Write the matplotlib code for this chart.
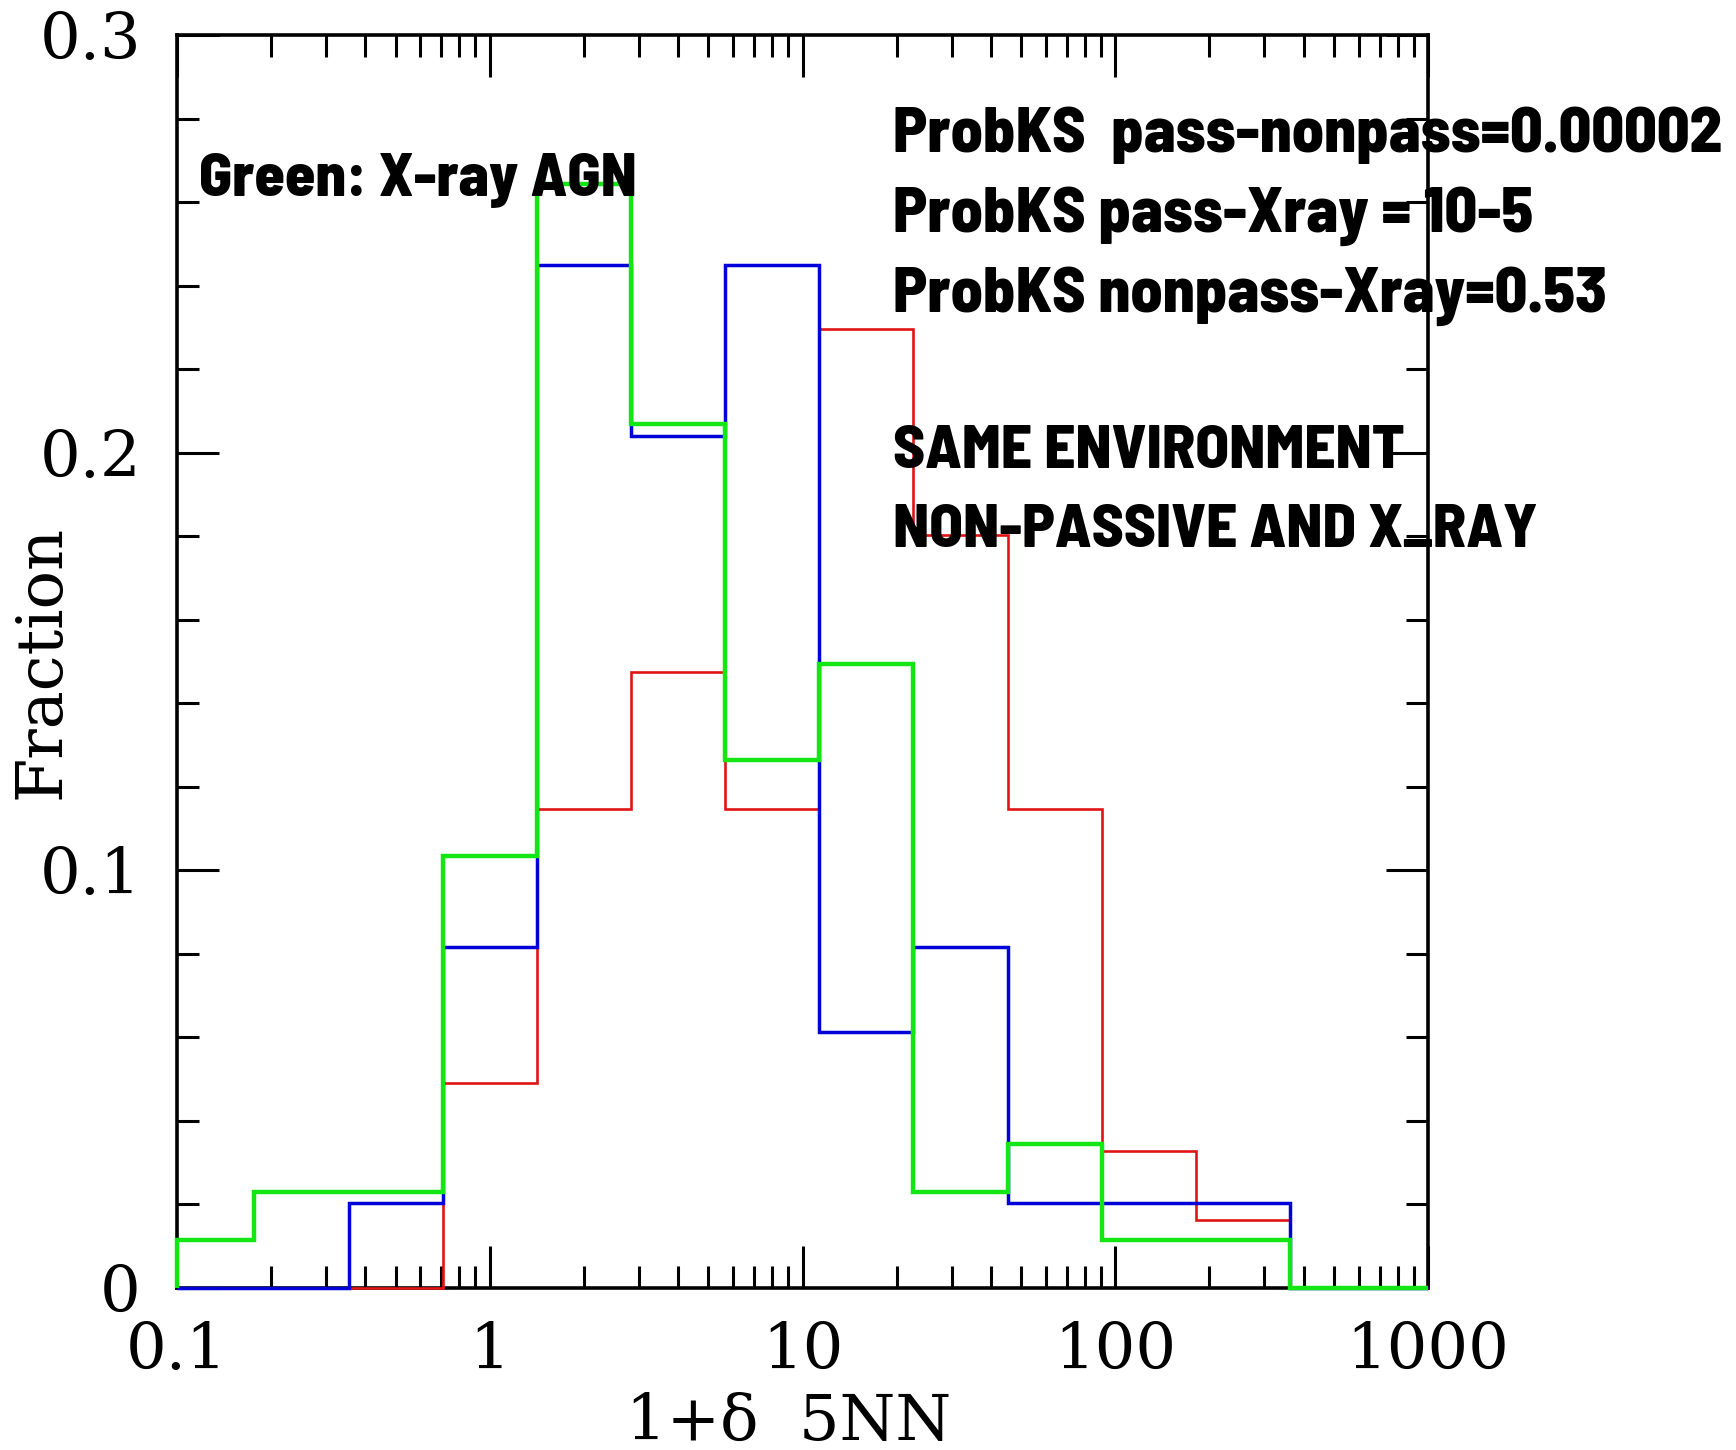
import matplotlib
matplotlib.use('Agg')
import matplotlib.pyplot as plt
from matplotlib.ticker import FixedLocator, MultipleLocator, LogLocator, NullFormatter, FixedFormatter

# ---- data (fractions per bin, bins are factor-2 wide in 1+delta) ----
bin_edges = [0.1, 0.1768, 0.3536, 0.7071, 1.414, 2.828, 5.657, 11.31,
             22.63, 45.25, 90.51, 181.0, 362.0, 1000.0]
red_frac = [0, 0, 0, 0.0492, 0.1148, 0.1475, 0.1148, 0.2295, 0.1803,
            0.1148, 0.0328, 0.0164, 0]
blue_frac = [0, 0, 0.0204, 0.0816, 0.2449, 0.2041, 0.2449, 0.0612, 0.0816,
             0.0204, 0.0204, 0.0204, 0]
green_frac = [0.0115, 0.0230, 0.0230, 0.1034, 0.2644, 0.2069, 0.1264, 0.1494,
              0.0230, 0.0345, 0.0115, 0.0115, 0]

x_ticks = [0.1, 1, 10, 100, 1000]
x_labels = ['0.1', '1', '10', '100', '1000']
y_ticks = [0, 0.1, 0.2, 0.3]
y_labels = ['0', '0.1', '0.2', '0.3']

ks_lines = ['ProbKS  pass-nonpass=0.00002',
            'ProbKS pass-Xray = 10-5',
            'ProbKS nonpass-Xray=0.53']
env_lines = ['SAME ENVIRONMENT', 'NON-PASSIVE AND X_RAY']
green_note = 'Green: X-ray AGN'

W, H = 1736, 1450
fig = plt.figure(figsize=(W / 100, H / 100), dpi=100)
ax = fig.add_axes([177 / W, 1 - 1288 / H, (1428 - 177) / W, (1288 - 35) / H])

ax.stairs(red_frac, bin_edges, color='#e01414', lw=1.9, zorder=4, clip_on=False)
ax.stairs(blue_frac, bin_edges, color='#0000d8', lw=2.5, zorder=5, clip_on=False)
ax.stairs(green_frac, bin_edges, color='#14e614', lw=3.2, zorder=6, clip_on=False)

ax.set_xscale('log')
ax.set_xlim(0.1, 1000)
ax.set_ylim(0, 0.3)

ax.xaxis.set_major_locator(FixedLocator(x_ticks))
ax.xaxis.set_major_formatter(FixedFormatter(x_labels))
ax.xaxis.set_minor_locator(LogLocator(base=10, subs=range(2, 10), numticks=20))
ax.xaxis.set_minor_formatter(NullFormatter())
ax.yaxis.set_major_locator(FixedLocator(y_ticks))
ax.yaxis.set_major_formatter(FixedFormatter(y_labels))
ax.yaxis.set_minor_locator(MultipleLocator(0.02))

serif = ['DejaVu Serif']
ax.tick_params(which='both', direction='in', top=True, right=True, width=2.2, colors='black')
ax.tick_params(which='major', length=30)
ax.tick_params(which='minor', length=16)
ax.tick_params(axis='x', which='major', pad=24, labelsize=46)
ax.tick_params(axis='y', which='major', pad=26, labelsize=46)
for lab in ax.get_xticklabels() + ax.get_yticklabels():
    lab.set_family(serif)
for sp in ax.spines.values():
    sp.set_linewidth(2.6)
    sp.set_zorder(3)

fig.text(789 / W, 1 - 1422 / H, '1+δ  5NN', family=serif, fontsize=46,
         ha='center', va='center')
fig.text(42 / W, 1 - 662 / H, 'Fraction', family=serif, fontsize=46,
         ha='center', va='center', rotation=90)

bold = dict(family=['Barlow Semi Condensed', 'DejaVu Sans'], weight=800,
            ha='left', va='baseline', color='black', zorder=10)
fig.text(199 / W, 1 - 196 / H, green_note, fontsize=44, **bold)
for i, s in enumerate(ks_lines):
    fig.text(893 / W, 1 - (152 + 80 * i) / H, s, fontsize=46, **bold)
for i, s in enumerate(env_lines):
    fig.text(893 / W, 1 - (468 + 79 * i) / H, s, fontsize=44, **bold)

fig.savefig('out.png', dpi=100)
